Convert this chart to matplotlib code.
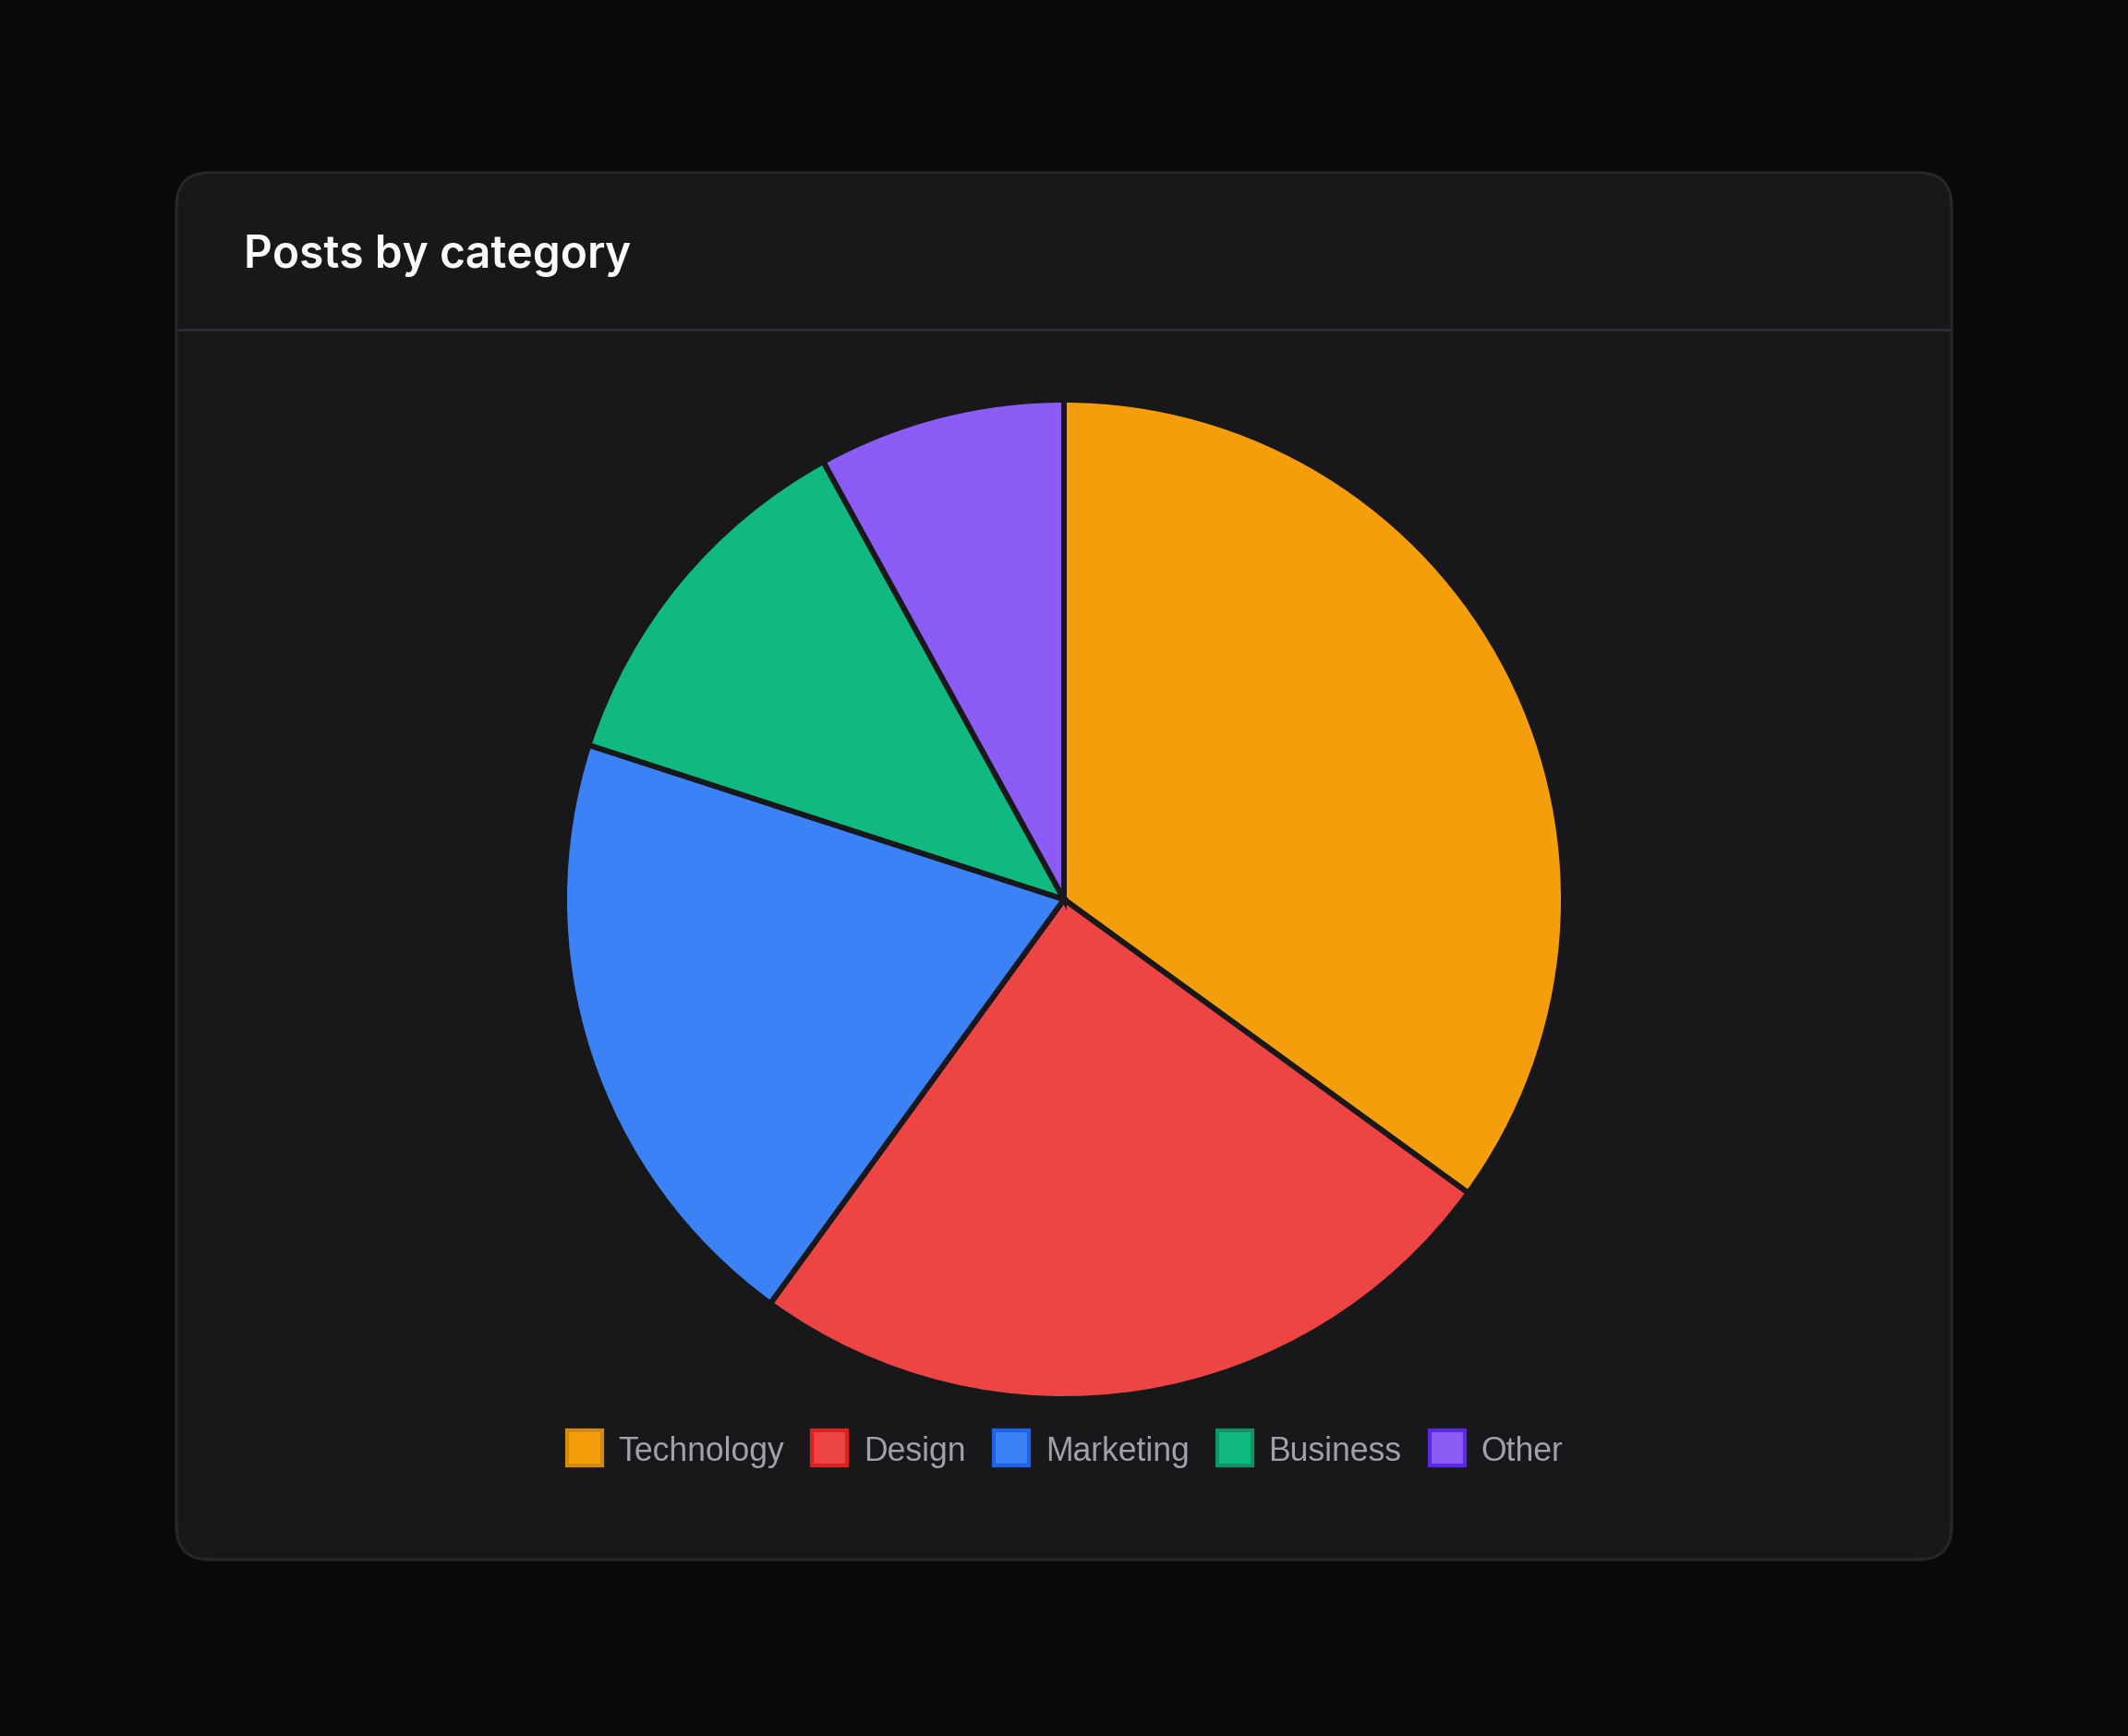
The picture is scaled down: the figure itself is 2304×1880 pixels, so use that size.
import matplotlib
matplotlib.use("Agg")
import matplotlib.pyplot as plt
from matplotlib.patches import FancyBboxPatch, Rectangle

# data
categories = ["Technology", "Design", "Marketing", "Business", "Other"]
posts = [35, 25, 20, 12, 8]
fills = ["#f59e0b", "#ef4444", "#3b82f6", "#10b981", "#8b5cf6"]
borders = ["#d18a0a", "#dc1f1f", "#1d63ea", "#0b9466", "#5b27e8"]
title = "Posts by category"

W, H = 2304, 1881
DPI = 100
fig = plt.figure(figsize=(W / DPI, H / DPI), dpi=DPI, facecolor="#09090b")

# background axes in pixel coords (y downwards)
bg = fig.add_axes([0, 0, 1, 1])
bg.set_xlim(0, W)
bg.set_ylim(H, 0)
bg.axis("off")

card_x0, card_y0, card_x1, card_y1 = 191, 188, 2113, 1690
card = FancyBboxPatch((card_x0, card_y0), card_x1 - card_x0, card_y1 - card_y0,
                      boxstyle="round,pad=0,rounding_size=36",
                      facecolor="#18181b", edgecolor="#27272a", linewidth=2.2)
bg.add_patch(card)
bg.plot([card_x0 + 1, card_x1 - 1], [357.5, 357.5], color="#2b2b30", linewidth=2.2,
        solid_capstyle="butt")

bg.text(264, 290, title, color="#fafafa", fontsize=34.5, fontweight="semibold",
        family=["Inter", "DejaVu Sans"], ha="left", va="baseline")

# pie
cx, cy, r = 1152, 975, 541
pax = fig.add_axes([(cx - 560) / W, (H - cy - 560) / H, 1120 / W, 1120 / H])
pax.set_aspect("equal")
pax.axis("off")
pax.pie(posts, colors=fills, radius=r, startangle=90, counterclock=False,
        wedgeprops=dict(edgecolor="#18181b", linewidth=4.3, joinstyle="miter"))
pax.set_xlim(-560, 560)
pax.set_ylim(-560, 560)

# legend drawn manually, centred under the pie
fig.canvas.draw()
renderer = fig.canvas.get_renderer()
box, gap_text, gap_item = 42, 16, 28
font = dict(fontsize=25.6, color="#a1a1aa", family=["Liberation Sans", "DejaVu Sans"])
widths = []
for name in categories:
    t = bg.text(0, 0, name, **font)
    widths.append(t.get_window_extent(renderer).width)
    t.remove()
total = sum(box + gap_text + w for w in widths) + gap_item * (len(categories) - 1)
x = cx - total / 2
ly = 1569
for name, w, fc, ec in zip(categories, widths, fills, borders):
    bg.add_patch(Rectangle((x + 2, ly - box / 2 + 2), box - 4, box - 4,
                           facecolor=fc, edgecolor=ec, linewidth=3))
    bg.text(x + box + gap_text, 1582, name, ha="left", va="baseline", **font)
    x += box + gap_text + w + gap_item

fig.savefig("out.png", dpi=DPI, facecolor=fig.get_facecolor())
